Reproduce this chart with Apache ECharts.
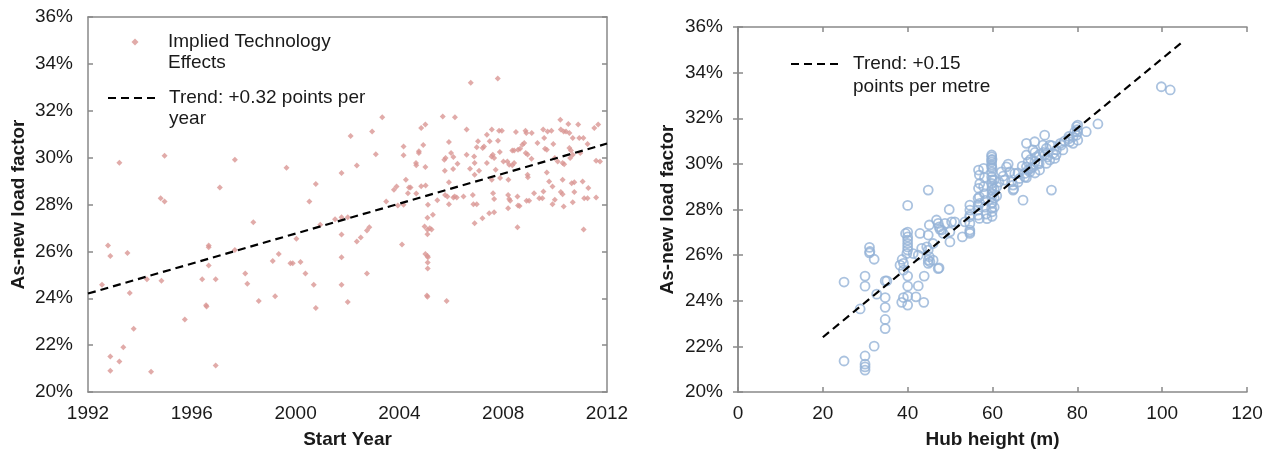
<!DOCTYPE html>
<html>
<head>
<meta charset="utf-8">
<script src="https://cdn.jsdelivr.net/npm/echarts@6/dist/echarts.min.js"></script>
<style>
html,body{margin:0;padding:0;background:#fff;}
#chart{width:1274px;height:456px;}
</style>
</head>
<body>
<div id="chart"></div>
<script>
// ---------- Left panel: implied technology effects by start year ----------
const startYear = [
1993.21,1994.95,1997.66,1999.65,1997.08,1994.80,1994.95,1992.77,1992.86,1993.52,
1992.54,1993.61,1993.76,1993.36,1992.86,1993.21,1992.86,1994.43,1994.27,1994.83,
1995.73,1996.40,1996.92,1996.57,1996.55,1996.65,1996.65,1996.65,1996.92,1997.66,
1998.37,1998.06,1998.14,1998.58,1999.12,1999.35,1999.21,1999.80,1999.89,2000.19,
2000.38,2000.70,2000.78,2000.53,2000.78,2000.95,2000.03,2001.77,2002.12,2002.36,
2003.09,2002.95,2001.52,2001.77,2002.01,2001.77,2001.77,2001.77,2002.01,2002.36,
2002.51,2002.75,2002.84,2002.75,2003.49,
2003.34,2006.75,2007.79,2005.67,2006.14,2004.84,2005.00,2004.16,2004.16,2004.75,
2004.75,2004.92,2004.64,2004.65,2005.00,2004.25,2003.79,2003.89,2004.37,2004.43,
2004.33,2004.65,2004.84,2005.01,2003.94,2004.16,2005.10,2005.08,2005.29,2004.97,
2005.08,2005.17,2005.24,2005.08,2005.46,2005.75,2005.91,2005.78,2005.73,2005.99,
2006.08,2006.07,2006.24,2005.91,2005.76,2005.85,2006.08,2006.13,2006.21,2005.91,
2006.47,2006.59,2006.59,2006.72,2006.88,2006.90,2006.90,2006.83,2006.85,2006.98,
2006.90,2007.03,2006.98,2007.07,2007.20,2007.21,2007.26,2007.37,2007.48,2007.56,
2007.37,2007.55,2007.60,2007.65,2007.56,2007.61,2007.65,2007.46,2007.65,2007.71,
2007.80,2007.84,2007.95,2007.87,2007.88,2008.01,2008.16,2008.23,2008.20,2008.19,
2008.23,2008.27,2008.19,2008.35,2008.42,2008.57,2008.65,2008.35,2008.42,2008.49,
2008.55,2008.57,2008.55,2008.74,2008.81,2008.86,2008.89,2008.87,2008.94,2008.94,
2008.95,2008.90,2009.00,2009.10,2009.09,2009.19,2009.32,2009.39,2009.51,2009.54,
2009.58,2009.61,2009.68,2009.55,2009.68,2009.71,2009.86,2009.77,2009.93,2009.90,
2009.90,2009.99,2009.99,2010.10,2010.20,2010.22,2010.33,2010.42,2010.22,2010.29,
2010.29,2010.33,2010.29,2010.35,2010.51,2010.55,2010.68,2010.55,2010.61,2010.58,
2010.68,2010.64,2010.74,2010.68,2010.74,2010.89,2010.93,2011.09,2010.97,2011.06,
2011.12,2011.25,2011.28,2011.25,2011.51,2011.66,2011.58,2011.73,2011.58,2011.10,
2004.10,2005.00,2005.08,2005.10,2005.09,2005.09,2005.08,2005.06,2005.82,2008.63
];
const impliedEffect = [
29.78,30.08,29.91,29.57,28.73,28.27,28.13,26.25,25.80,25.93,
24.58,24.22,22.70,21.91,21.51,21.30,20.91,20.86,24.81,24.75,
23.09,24.81,24.81,23.65,23.70,26.25,26.18,25.40,21.13,26.06,
27.24,25.06,24.62,23.88,25.59,25.89,24.09,25.49,25.49,25.55,
25.06,24.58,23.58,28.13,28.87,27.14,26.54,29.34,30.92,29.66,
30.14,31.12,27.37,27.46,27.46,26.72,25.75,24.58,23.84,26.42,
26.59,26.89,27.03,25.06,28.13,
31.72,33.19,33.38,31.76,31.72,31.26,31.41,30.48,30.10,30.27,
30.20,30.54,29.77,29.68,29.60,29.06,28.63,28.77,28.73,28.73,
28.48,28.47,28.78,28.81,27.96,27.99,27.99,27.44,27.56,27.06,
26.92,26.99,26.93,26.73,28.18,29.44,30.67,29.98,29.91,30.20,
30.03,29.51,29.74,28.95,28.41,28.34,28.30,28.34,28.30,28.01,
28.34,31.20,30.12,29.53,30.05,29.77,29.27,28.41,28.01,28.01,
27.20,30.70,30.44,29.44,27.41,30.41,30.48,30.98,30.70,31.20,
29.77,30.05,30.12,29.98,29.06,28.48,28.24,27.63,27.67,29.48,
30.72,31.15,31.15,30.24,29.13,29.84,29.84,29.70,29.06,28.41,
28.24,28.16,27.84,30.30,30.30,30.34,30.38,29.67,29.77,31.09,
28.34,27.96,27.03,30.55,30.62,31.15,31.05,30.20,30.13,29.27,
29.16,28.16,28.16,31.05,29.95,28.48,30.62,28.27,28.27,31.20,
30.84,30.38,30.34,28.56,29.37,31.12,31.15,28.98,30.58,28.77,
28.01,28.20,29.98,29.84,31.62,31.20,31.12,31.12,28.53,28.44,
29.06,27.91,29.77,29.72,31.44,31.05,30.84,30.41,30.30,29.98,
30.12,28.91,28.95,28.10,28.53,31.41,30.84,30.84,30.20,28.98,
28.27,30.58,28.70,28.27,31.26,31.41,29.87,29.84,28.30,26.93,
26.29,25.89,25.80,25.75,25.53,25.27,24.06,24.12,23.88,27.94
];
const trendYears = [1992, 2012];
const trendYearValues = [24.2, 30.6];
const yearTicks = [1992, 1996, 2000, 2004, 2008, 2012];

// ---------- Right panel: load factor by hub height ----------
const hubHeight = [
25.0,25.0,28.8,29.95,29.95,29.95,29.95,29.95,29.95,31.0,
31.1,31.0,32.1,32.1,32.7,34.7,35.1,34.7,34.7,34.7,
34.7,40.0,39.5,40.0,40.0,40.0,40.0,40.0,40.0,39.8,
38.7,39.0,38.2,39.0,40.0,40.0,39.0,40.0,38.6,40.0,
41.95,42.5,43.8,43.9,42.5,42.9,44.85,45.1,44.85,45.1,
44.85,45.25,46.0,46.0,47.4,46.8,47.2,47.6,49.8,49.96,
49.96,48.8,51.1,52.9,54.66,54.66,54.66,54.66,54.66,56.6,
56.6,56.6,56.6,44.85,
41.3,43.3,44.5,44.85,47.2,47.44,48.0,48.4,50.35,53.5,
54.66,54.66,54.66,56.7,56.9,57.0,56.7,56.9,57.0,56.9,
57.9,58.1,57.9,58.1,58.3,58.2,58.5,58.7,
59.8,59.8,59.8,59.8,59.8,59.8,59.8,59.8,59.8,59.8,
59.8,59.8,59.8,60.4,60.4,60.4,60.4,
62.1,62.5,62.9,63.3,63.7,64.85,64.85,64.5,64.1,65.25,
67.2,66.4,67.6,68.0,68.0,68.4,68.0,68.4,67.6,68.8,
69.95,69.55,70.35,70.7,71.1,69.55,72.3,71.9,72.7,73.5,
72.3,73.5,72.7,73.9,74.3,74.66,75.06,76.2,76.6,78.2,
79.0,79.4,79.8,80.1,79.8,80.1,79.0,82.1,84.85,99.8,101.9,
59.9,59.9,59.9,59.9,59.9,59.9,59.9,59.9,61.0,61.0,61.5,
66.0,67.0,69.0,70.0,71.0,70.0,72.0,73.0,74.0,75.0,
76.0,77.0,78.0,80.0,80.0,78.0,71.0,69.0,68.0,66.0,65.0,70.0
];
const loadFactor = [
24.82,21.36,23.64,25.08,24.64,21.58,21.22,21.10,20.96,26.34,
26.16,26.10,25.82,22.01,24.29,24.87,24.87,24.14,23.71,23.18,
22.78,28.18,26.95,27.01,26.80,26.66,26.51,26.36,26.22,26.07,
25.81,25.64,25.56,25.34,25.08,24.64,24.14,24.20,23.93,23.81,
24.17,24.65,23.93,25.08,26.00,26.95,26.88,27.32,26.22,25.93,
25.78,25.71,25.78,26.51,25.44,27.54,27.39,27.13,28.00,27.02,
26.58,27.39,27.46,26.80,28.19,27.97,27.75,27.39,27.02,28.49,
28.19,27.97,27.75,28.85,
26.07,26.30,26.36,25.64,25.41,27.24,27.10,26.95,27.46,27.46,
27.68,27.10,26.95,29.73,29.51,29.14,28.93,28.56,28.27,27.61,
29.80,29.40,29.00,28.70,28.40,28.10,27.80,27.60,
30.39,30.31,30.17,30.09,29.95,29.87,29.65,29.43,29.14,28.85,
28.56,28.27,28.05,29.30,28.90,28.50,28.10,
29.65,29.46,29.29,29.87,29.99,28.85,29.07,29.21,29.65,29.58,
28.41,29.36,29.43,30.90,30.39,30.09,29.87,29.73,29.58,29.65,
30.97,30.61,30.31,30.02,29.73,29.87,31.26,30.82,30.68,30.82,
30.39,30.17,30.02,28.85,30.46,30.24,30.61,30.82,30.61,30.97,
31.19,31.41,31.63,31.70,31.26,31.04,30.90,31.41,31.75,33.38,33.24,
27.70,27.90,28.30,28.70,29.00,29.30,29.80,30.20,28.60,29.00,29.20,
29.60,29.90,30.20,30.10,30.40,30.50,30.50,30.30,30.80,30.40,
30.90,31.00,31.20,31.40,31.50,31.10,30.00,29.80,29.40,29.20,28.90,29.60
];
const trendHeights = [20, 104.5];
const trendHeightValues = [22.4, 35.3];
const heightTicks = [0, 20, 40, 60, 80, 100, 120];
const pctTicks = [20, 22, 24, 26, 28, 30, 32, 34, 36];

const FONT = '"Liberation Sans", Arial, sans-serif';
const AXIS_COLOR = '#898989';
const TEXT_COLOR = '#1a1a1a';
const PINK = '#D99694';
const BLUE = '#95B3D7';
const DASH = [8, 5];

const pair = (xs, ys) => xs.map((x, i) => [x, ys[i]]);

function yAxisPair(gridIndex, nameGap) {
  return [
    {
      gridIndex, type: 'value', position: 'left',
      min: pctTicks[0], max: pctTicks[pctTicks.length - 1], interval: 2,
      name: 'As-new load factor', nameLocation: 'middle', nameGap,
      nameTextStyle: {fontFamily: FONT, fontSize: 19, fontWeight: 'bold', color: TEXT_COLOR},
      axisLine: {show: true, lineStyle: {color: AXIS_COLOR, width: 1.5}},
      axisTick: {show: true, inside: true, length: 5, lineStyle: {color: AXIS_COLOR, width: 1.5}},
      axisLabel: {formatter: '{value}%', fontFamily: FONT, fontSize: 19, color: TEXT_COLOR, margin: 15},
      splitLine: {show: false}
    },
    {
      gridIndex, type: 'value', position: 'right',
      min: pctTicks[0], max: pctTicks[pctTicks.length - 1], interval: 2,
      axisLine: {show: true, lineStyle: {color: AXIS_COLOR, width: 1.5}},
      axisTick: {show: true, inside: true, length: 5, lineStyle: {color: AXIS_COLOR, width: 1.5}},
      axisLabel: {show: false},
      splitLine: {show: false}
    }
  ];
}

// a leading blank line puts the first text line level with the legend icon
const legendText = (lh, padLeft) => ({
  fontFamily: FONT, fontSize: 19, color: TEXT_COLOR, lineHeight: lh, padding: [0, 0, 0, padLeft]
});
const firstLineFormatter = name => '\n' + name;

const chart = echarts.init(document.getElementById('chart'), null, {renderer: 'canvas'});
chart.setOption({
  animation: false,
  backgroundColor: '#ffffff',
  textStyle: {fontFamily: FONT},
  grid: [
    {left: 88, top: 17, width: 519, height: 375, show: false},
    {left: 738, top: 27, width: 509, height: 365, show: false}
  ],
  legend: [
    {
      data: [{name: 'Implied Technology\nEffects', icon: 'diamond'}],
      left: 131.5, top: 10.5, padding: 0,
      itemWidth: 7, itemHeight: 7,
      formatter: firstLineFormatter,
      textStyle: legendText(21, 24.5),
      selectedMode: false
    },
    {
      data: ['Trend: +0.32 points per\nyear'],
      left: 107, top: 66.5, padding: 0,
      itemWidth: 51, itemHeight: 14,
      itemStyle: {opacity: 0},
      formatter: firstLineFormatter,
      textStyle: legendText(21, 5),
      selectedMode: false
    },
    {
      data: ['Trend: +0.15\npoints per metre'],
      left: 790, top: 29.5, padding: 0,
      itemWidth: 50, itemHeight: 14,
      itemStyle: {opacity: 0},
      formatter: firstLineFormatter,
      textStyle: legendText(23, 7),
      selectedMode: false
    }
  ],
  xAxis: [
    {
      gridIndex: 0, type: 'value', position: 'bottom',
      min: yearTicks[0], max: yearTicks[yearTicks.length - 1], interval: 4,
      name: 'Start Year', nameLocation: 'middle', nameGap: 38,
      nameTextStyle: {fontFamily: FONT, fontSize: 19, fontWeight: 'bold', color: TEXT_COLOR},
      axisLine: {show: true, onZero: false, lineStyle: {color: AXIS_COLOR, width: 1.5}},
      axisTick: {show: false},
      axisLabel: {formatter: v => String(v), fontFamily: FONT, fontSize: 19, color: TEXT_COLOR, margin: 12},
      splitLine: {show: false}
    },
    {
      gridIndex: 0, type: 'value', position: 'top',
      min: yearTicks[0], max: yearTicks[yearTicks.length - 1], interval: 4,
      axisLine: {show: true, onZero: false, lineStyle: {color: AXIS_COLOR, width: 1.5}},
      axisTick: {show: false}, axisLabel: {show: false}, splitLine: {show: false}
    },
    {
      gridIndex: 1, type: 'value', position: 'bottom',
      min: heightTicks[0], max: heightTicks[heightTicks.length - 1], interval: 20,
      name: 'Hub height (m)', nameLocation: 'middle', nameGap: 38,
      nameTextStyle: {fontFamily: FONT, fontSize: 19, fontWeight: 'bold', color: TEXT_COLOR},
      axisLine: {show: true, onZero: false, lineStyle: {color: AXIS_COLOR, width: 1.5}},
      axisTick: {show: true, inside: true, length: 5, lineStyle: {color: AXIS_COLOR, width: 1.5}},
      axisLabel: {fontFamily: FONT, fontSize: 19, color: TEXT_COLOR, margin: 12},
      splitLine: {show: false}
    },
    {
      gridIndex: 1, type: 'value', position: 'top',
      min: heightTicks[0], max: heightTicks[heightTicks.length - 1], interval: 20,
      axisLine: {show: true, onZero: false, lineStyle: {color: AXIS_COLOR, width: 1.5}},
      axisTick: {show: true, inside: true, length: 5, lineStyle: {color: AXIS_COLOR, width: 1.5}},
      axisLabel: {show: false}, splitLine: {show: false}
    }
  ],
  yAxis: [...yAxisPair(0, 60), ...yAxisPair(1, 61)],
  series: [
    {
      name: 'Implied Technology\nEffects', type: 'scatter',
      xAxisIndex: 0, yAxisIndex: 0,
      symbol: 'diamond', symbolSize: 6,
      itemStyle: {color: PINK},
      data: pair(startYear, impliedEffect)
    },
    {
      name: 'Trend: +0.32 points per\nyear', type: 'line',
      xAxisIndex: 0, yAxisIndex: 0,
      symbol: 'none', z: 5,
      lineStyle: {color: '#000', width: 2.2, type: DASH},
      itemStyle: {color: '#000'},
      data: pair(trendYears, trendYearValues)
    },
    {
      name: 'Hub', type: 'scatter',
      xAxisIndex: 2, yAxisIndex: 2,
      symbol: 'circle', symbolSize: 9,
      itemStyle: {color: 'rgba(0,0,0,0)', borderColor: BLUE, borderWidth: 1.8},
      data: pair(hubHeight, loadFactor)
    },
    {
      name: 'Trend: +0.15\npoints per metre', type: 'line',
      xAxisIndex: 2, yAxisIndex: 2,
      symbol: 'none', z: 5,
      lineStyle: {color: '#000', width: 2.2, type: DASH},
      itemStyle: {color: '#000'},
      data: pair(trendHeights, trendHeightValues)
    }
  ]
});
</script>
</body>
</html>
